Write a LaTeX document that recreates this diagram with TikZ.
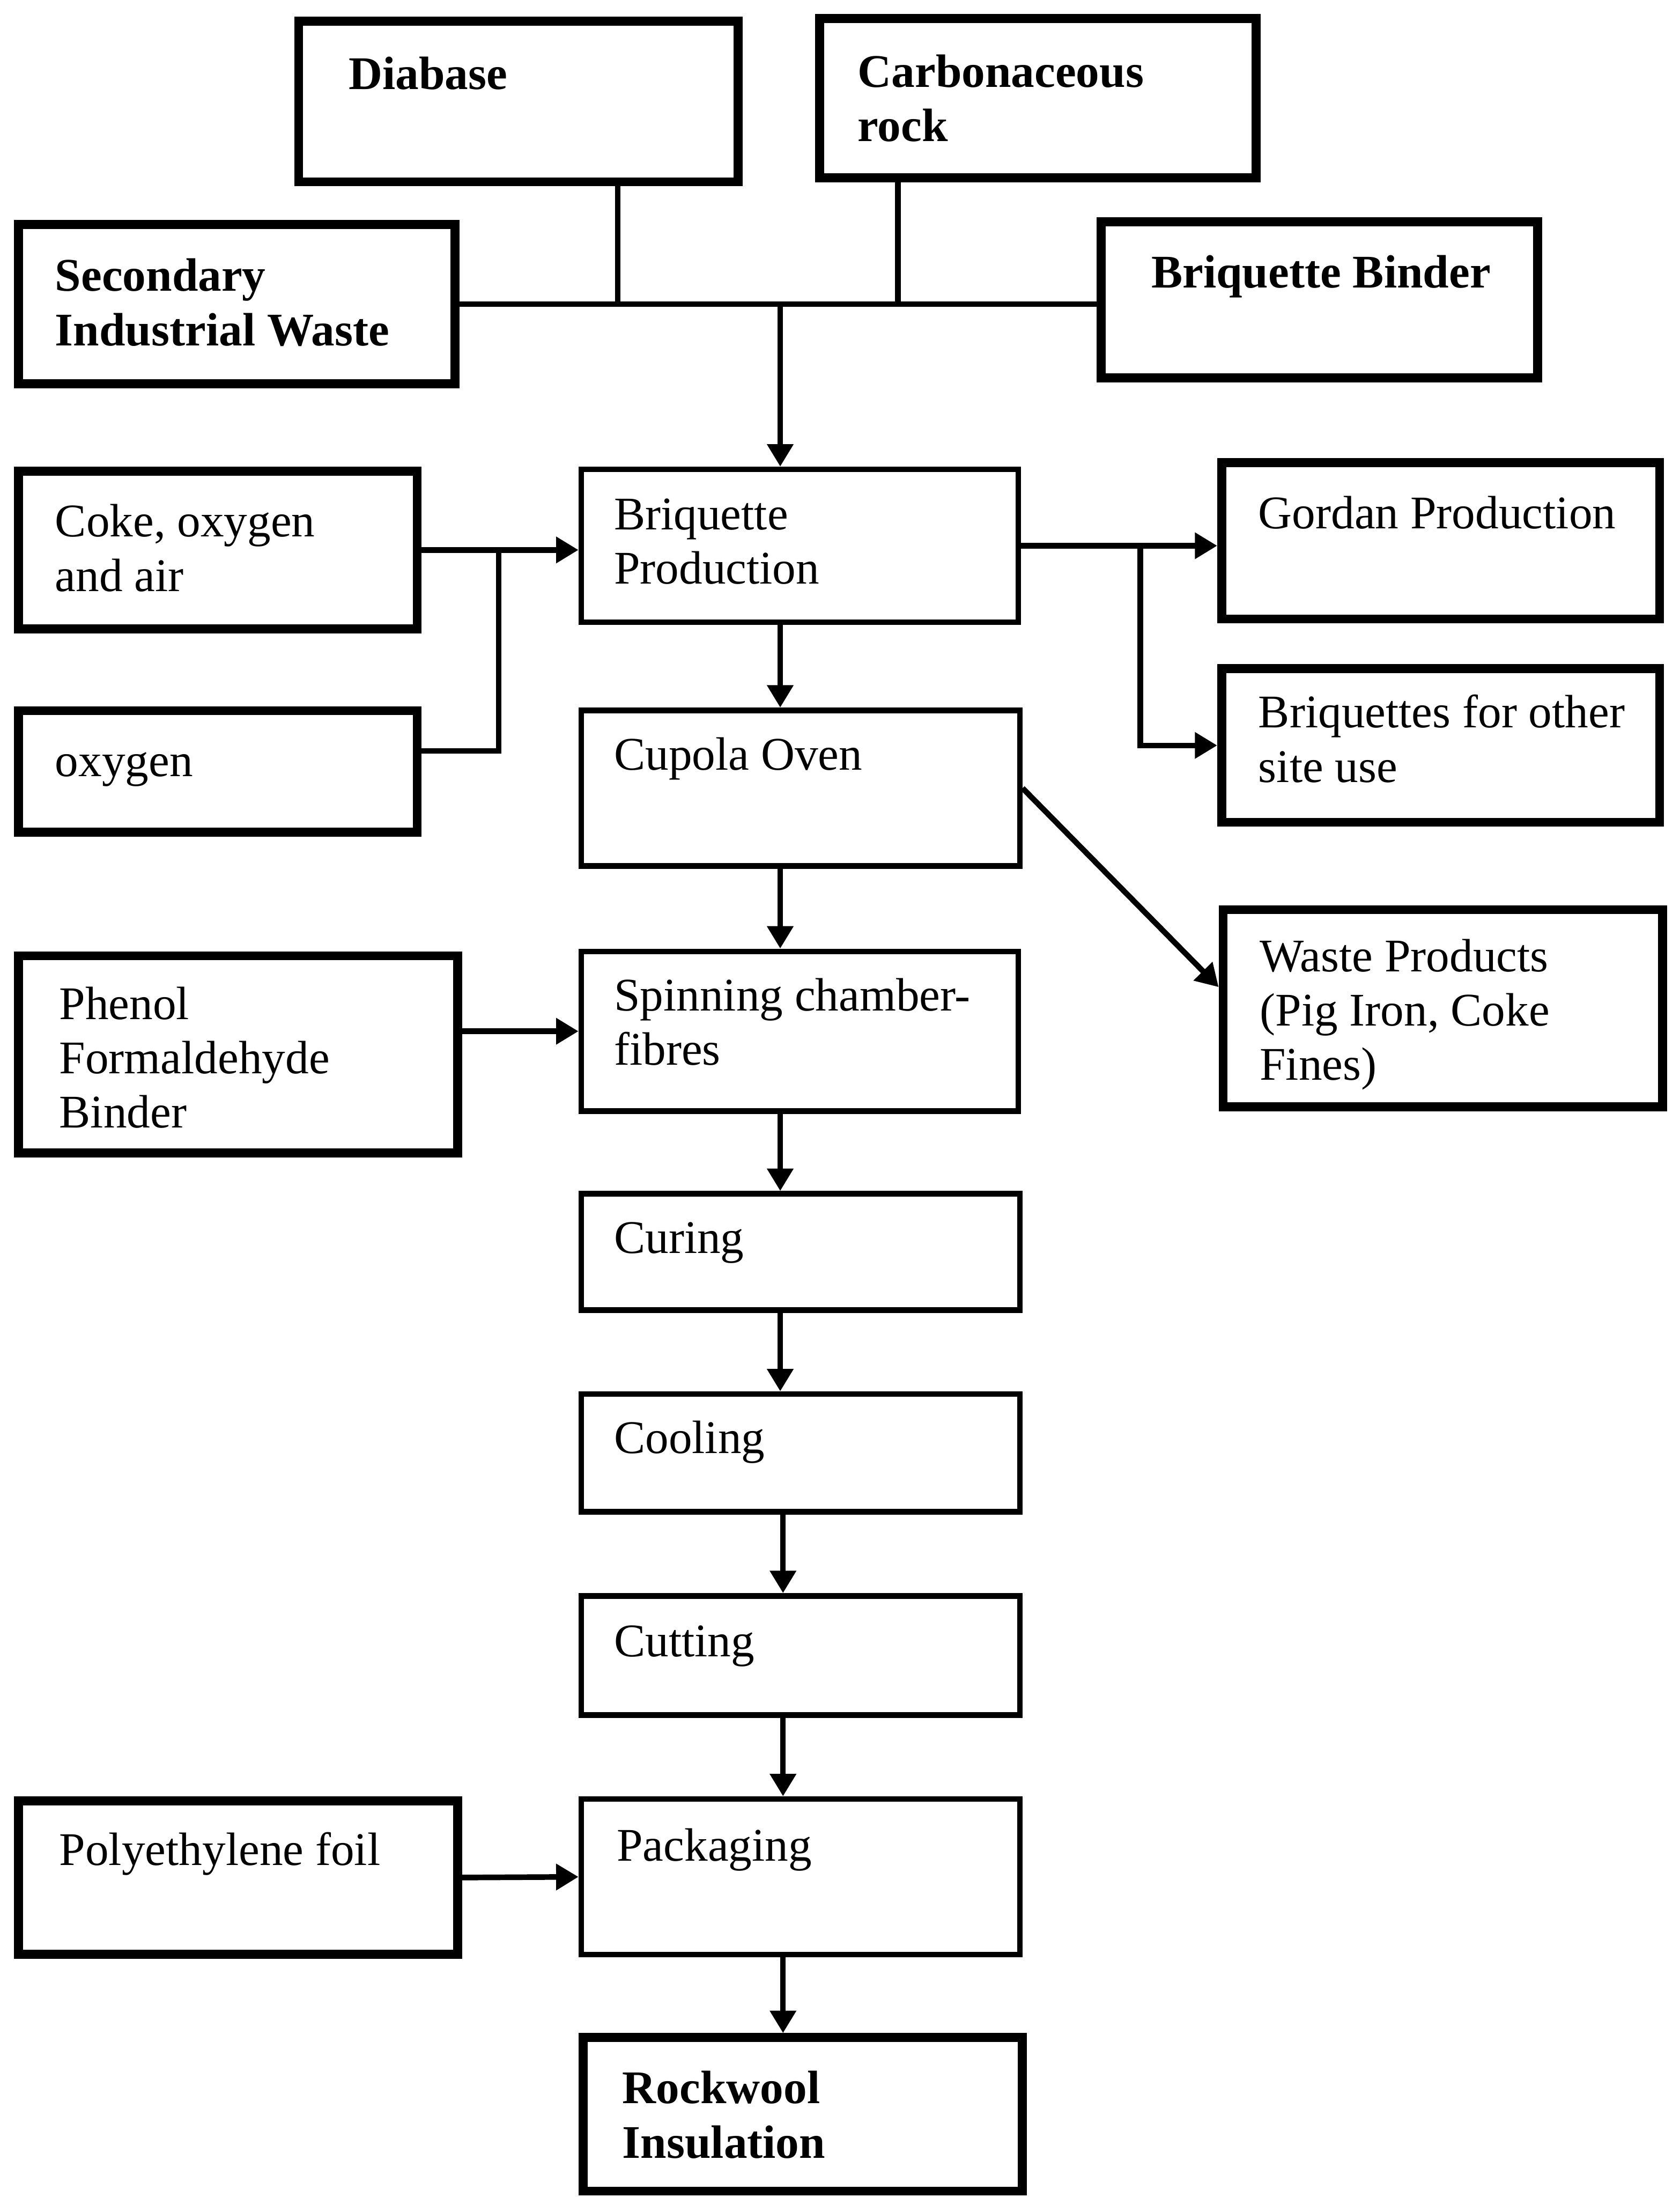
\documentclass[tikz,border=0pt]{standalone}
\usepackage{fontspec}
\setmainfont{Liberation Serif}
\usetikzlibrary{arrows.meta,calc}
\tikzset{
  heavy/.style={draw, line width=3.2pt, inner sep=0pt},
  heavyb/.style={heavy},
  light/.style={draw, line width=2pt, inner sep=0pt},
  heavy text/.style={inner sep=0pt, align=left, anchor=north west, font=\fontsize{16.7}{19.4}\selectfont},
  heavyb text/.style={heavy text, font=\fontsize{16.7}{19.4}\selectfont\bfseries},
  light text/.style={heavy text},
  conn/.style={line width=2pt},
  arr/.style={conn, -{Triangle[length=8pt,width=9pt]}},
}
\def\lwheavy{6.4}\def\lwheavyb{6.4}\def\lwlight{4}
\newcommand\mkbox[9]{%
  \edef\curlw{\csname lw#1\endcsname}%
  \node[#1, anchor=north west, minimum width={(#5-#3-\curlw)*0.5pt}, minimum height={(#6-#4-\curlw)*0.5pt}] (#2) at (#3,#4) {};
  \node[#1 text] (#2-t) at ({#3+#7},{#4+#8-27.2}) {\strut #9};
}
\begin{document}
\begin{tikzpicture}[x=0.5pt,y=-0.5pt]
\fill[white] (0,0) rectangle (1199,1568);
\useasboundingbox (0,0) rectangle (1199,1568);

\mkbox{heavyb}{diab}{210}{12}{530}{133}{38.5}{51.5}{Diabase}
\mkbox{heavyb}{carb}{582}{10}{900}{130}{30}{51.7}{Carbonaceous\\rock}
\mkbox{heavyb}{sec}{10}{157}{328}{277}{29}{50.5}{Secondary\\Industrial Waste}
\mkbox{heavyb}{bind}{783}{155}{1101}{273}{38.6}{50}{Briquette Binder}
\mkbox{heavy}{coke}{10}{333}{301}{452}{29}{49.7}{Coke, oxygen\\and air}
\mkbox{heavy}{oxy}{10}{504}{301}{597}{29}{49.7}{oxygen}
\mkbox{light}{bp}{413}{333}{729}{446}{25}{44.7}{Briquette\\Production}
\mkbox{heavy}{gord}{869}{327}{1188}{445}{29}{50}{Gordan Production}
\mkbox{heavy}{bro}{869}{474}{1188}{590}{29}{45}{Briquettes for other\\site use}
\mkbox{light}{cup}{413}{505}{730}{620}{25}{44}{Cupola Oven}
\mkbox{heavy}{waste}{870}{646}{1190}{793}{29}{47}{Waste Products\\(Pig Iron, Coke\\Fines)}
\mkbox{heavy}{phen}{10}{679}{330}{826}{32}{48}{Phenol\\Formaldehyde\\Binder}
\mkbox{light}{spin}{413}{677}{729}{795}{25}{44}{Spinning chamber-\\fibres}
\mkbox{light}{cur}{413}{850}{730}{937}{25}{44}{Curing}
\mkbox{light}{cool}{413}{993}{730}{1081}{25}{44}{Cooling}
\mkbox{light}{cut}{413}{1137}{730}{1226}{25}{45}{Cutting}
\mkbox{heavy}{poly}{10}{1282}{330}{1398}{32}{49}{Polyethylene foil}
\mkbox{light}{pack}{413}{1282}{730}{1397}{27}{45.6}{Packaging}
\mkbox{heavyb}{rock}{413}{1451}{733}{1567}{31}{50}{Rockwool\\Insulation}

% top collector
\coordinate (ja) at (441,217);
\coordinate (jb) at (641,217);
\coordinate (jc) at (557,217);
\draw[conn] (sec.east) -- (sec.east -| bind.west);
\draw[conn] (diab.south -| ja) -- (ja);
\draw[conn] (carb.south -| jb) -- (jb);
\draw[arr] (jc) -- (bp.north -| jc);

% coke / oxygen
\coordinate (ob) at (356,536);
\draw[arr] (coke.east) -- (coke.east -| bp.west);
\draw[conn] (oxy.east |- ob) -- (ob) -- (ob |- coke.east);

% briquette outputs
\coordinate (bx) at (814,0);
\draw[arr] (bp.east) -- (bp.east -| gord.west);
\draw[arr] (bp.east -| bx) |- (bro.west);

% main line
\coordinate (mx) at (557,0);
\coordinate (lx) at (559,0);
\draw[arr] (bp.south -| mx) -- (cup.north -| mx);
\draw[arr] (cup.south -| mx) -- (spin.north -| mx);
\draw[arr] (spin.south -| mx) -- (cur.north -| mx);
\draw[arr] (cur.south -| mx) -- (cool.north -| mx);
\draw[arr] (cool.south -| lx) -- (cut.north -| lx);
\draw[arr] (cut.south -| lx) -- (pack.north -| lx);
\draw[arr] (pack.south -| lx) -- (rock.north -| lx);

% side inputs / outputs
\draw[arr] (cup.east) -- ([yshift=7.5pt]waste.west);
\draw[arr] (spin.west -| phen.east) -- (spin.west);
\draw[arr] (poly.east) -- (pack.west);
\end{tikzpicture}
\end{document}
